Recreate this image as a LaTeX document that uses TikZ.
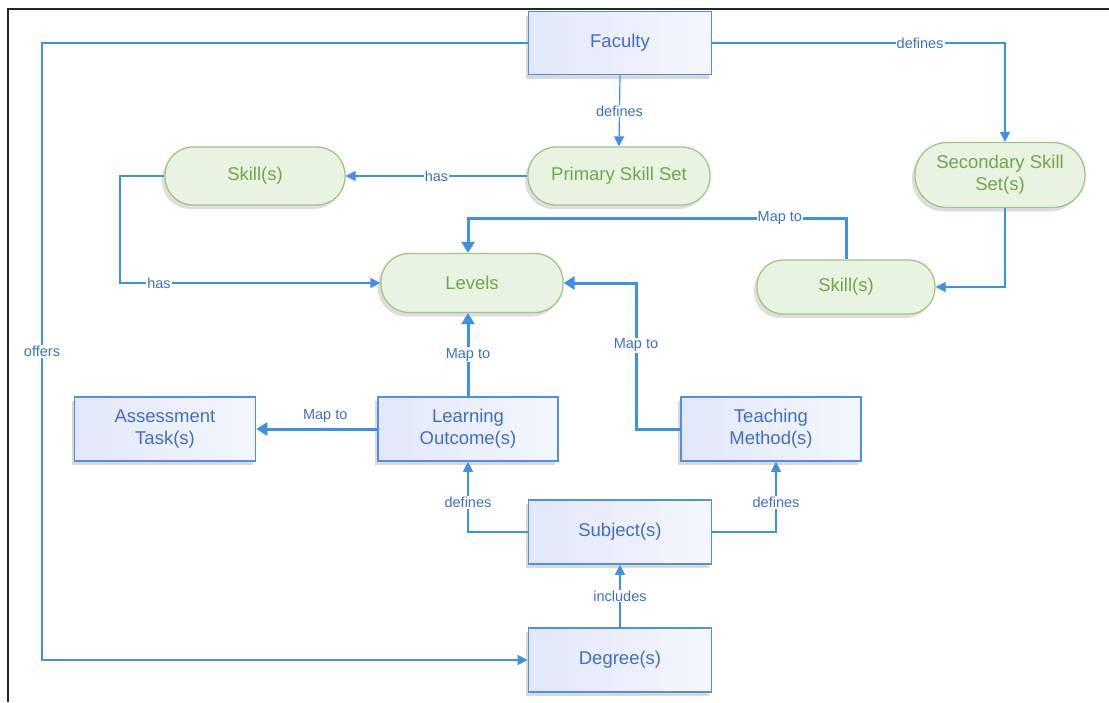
\documentclass[tikz,border=0pt]{standalone}
\usepackage{fontspec}
\setmainfont{Liberation Sans}
\usetikzlibrary{arrows.meta,shadows}
\definecolor{lineblue}{RGB}{60,144,232}
\definecolor{boxedge}{RGB}{84,142,220}
\definecolor{boxfill}{RGB}{226,231,250}
\definecolor{boxtext}{RGB}{60,112,196}
\definecolor{greenfill}{RGB}{233,243,225}
\definecolor{greenedge}{RGB}{160,198,132}
\definecolor{greentext}{RGB}{112,166,78}
\tikzset{
  bluebox/.style={rectangle, draw=boxedge, line width=1.6pt, left color=boxfill, right color=boxfill!35!white,
    minimum width=183pt, minimum height=63pt, inner sep=0pt, align=center, text=boxtext,
    font=\fontsize{18.5}{22}\selectfont,
    drop shadow={shadow xshift=-3pt, shadow yshift=-4pt, opacity=0.15, fill=black}},
  greenbox/.style={rectangle, rounded corners=28pt, draw=greenedge, line width=1.3pt, fill=greenfill,
    minimum width=182pt, minimum height=58pt, inner sep=0pt, align=center, text=greentext,
    font=\fontsize{18.5}{22}\selectfont,
    drop shadow={shadow xshift=-3pt, shadow yshift=-4pt, opacity=0.13, fill=black}},
  thinline/.style={draw=lineblue, line width=1.2pt, -{Triangle[length=10pt,width=10pt]}},
  thickline/.style={draw=lineblue, line width=3pt, -{Triangle[length=11pt,width=13pt]}},
  lbl/.style={fill=white, inner sep=1pt, text=boxtext, font=\fontsize{14.5}{16}\selectfont},
}
\begin{document}
\begin{tikzpicture}[x=1pt, y=-1pt]
\useasboundingbox (0,0) rectangle (1109,702);
\fill[white] (0,0) rectangle (1109,702);
% page frame
\draw[line width=2pt, black!85] (1109,9) -- (8,9) -- (8,702);

% nodes
\node[bluebox] (fac) at (620,43) {Faculty};
\node[greenbox] (prim) at (619,176) {Primary Skill Set};
\node[greenbox, minimum width=180pt] (skl) at (255,176) {Skill(s)};
\node[greenbox, minimum width=170pt, minimum height=65pt, rounded corners=32pt] (sec) at (1000,175) {Secondary Skill\\Set(s)};
\node[greenbox, minimum height=59pt] (lev) at (472,283) {Levels};
\node[greenbox, minimum width=178pt, minimum height=54pt, rounded corners=26pt] (skr) at (846,287) {Skill(s)};
\node[bluebox, minimum width=181pt, minimum height=64pt] (ass) at (165,429) {Assessment\\Task(s)};
\node[bluebox, minimum width=180pt, minimum height=64pt] (lo) at (468,429) {Learning\\Outcome(s)};
\node[bluebox, minimum width=180pt, minimum height=64pt] (tm) at (771,429) {Teaching\\Method(s)};
\node[bluebox, minimum height=64pt] (sub) at (620,532) {Subject(s)};
\node[bluebox, minimum height=64pt] (deg) at (620,660) {Degree(s)};

% routing points
\coordinate (offTop) at (42,43);
\coordinate (offBot) at (42,660);
\coordinate (secTop) at (1005,43);
\coordinate (secBot) at (1005,287);
\coordinate (sklTop) at (120,176);
\coordinate (sklBot) at (120,283);
\coordinate (mapR) at (846,218);
\coordinate (mapL) at (468,218);
\coordinate (tmL) at (636,429);
\coordinate (tmU) at (636,283);
\coordinate (subL) at (468,532);
\coordinate (subR) at (776,532);

% thin connectors
\draw[thinline] (fac.south) -- node[lbl]{defines} (prim.north);
\draw[thinline] (fac.east) -- node[lbl, pos=0.71]{defines} (secTop) -- (secTop |- sec.north);
\draw[thinline] (fac.west) -- (offTop) -- node[lbl]{offers} (offBot) -- (deg.west);
\draw[thinline] (prim.west) -- node[lbl]{has} (skl.east);
\draw[thinline] (skl.west) -- (sklTop) -- (sklBot) -- node[lbl, pos=0.15]{has} (lev.west);
\draw[thinline] (secTop |- sec.south) -- (secBot) -- (skr.east);
\draw[thinline] (sub.west) -- (subL) -- node[lbl, pos=0.42]{defines} (subL |- lo.south);
\draw[thinline] (sub.east) -- (subR) -- node[lbl, pos=0.42]{defines} (subR |- tm.south);
\draw[thinline] (deg.north) -- node[lbl]{includes} (sub.south);

% thick connectors
\draw[thickline] (skr.north) -- (mapR) -- node[lbl, pos=0.175]{Map to} (mapL) -- (mapL |- lev.north);
\draw[thickline] (lo.north) -- node[lbl]{Map to} (lo.north |- lev.south);
\draw[thickline] (tm.west) -- (tmL) -- node[lbl, pos=0.575]{Map to} (tmU) -- (lev.east);
\draw[thickline] (lo.west) -- node[lbl, fill=none, pos=0.43, above=4pt]{Map to} (ass.east);
\end{tikzpicture}
\end{document}
